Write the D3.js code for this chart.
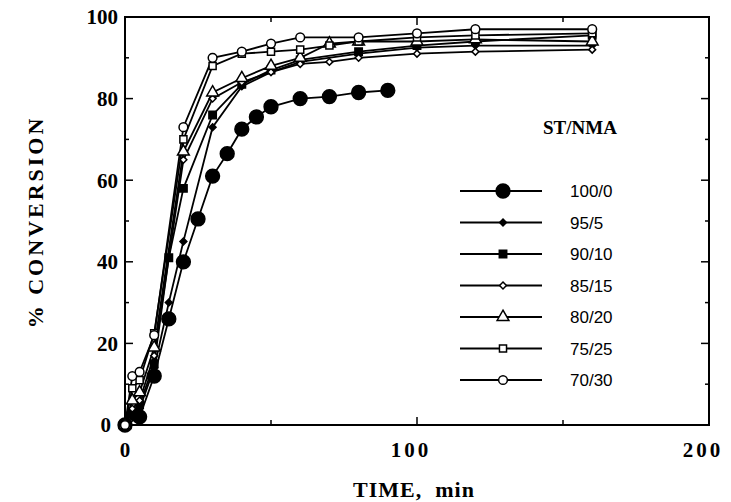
<!DOCTYPE html>
<html><head><meta charset="utf-8">
<script src="https://cdn.jsdelivr.net/npm/d3@7"></script>
<style>
body{margin:0;background:#fff;}
svg{display:block;}
</style></head>
<body><svg id="c" width="731" height="502"></svg>
<script>
const seriesNames = ["100/0","95/5","90/10","85/15","80/20","75/25","70/30"];
const t100_0 = [0,5,10,15,20,25,30,35,40,45,50,60,70,80,90];
const v100_0 = [0,2,12,26,40,50.5,61,66.5,72.5,75.5,78,80,80.5,81.5,82];
const t95_5 = [0,2.5,5,10,15,20,30,40,50,60,80,100,120,160];
const v95_5 = [0,2,4,14,30,45,73,83,86.5,89,91,92.5,93,93];
const t90_10 = [0,2.5,5,10,15,20,30,40,50,60,80,100,120,160];
const v90_10 = [0,3,5,15,41,58,76,83.5,87,89.5,91.5,93,94,95.5];
const t85_15 = [0,2.5,5,10,20,30,40,50,60,70,80,100,120,160];
const v85_15 = [0,4,6,17,65,80,84,86.5,88.5,89,90,91,91.5,92];
const t80_20 = [0,2.5,5,10,20,30,40,50,60,70,80,100,120,160];
const v80_20 = [0,6,8,19,67,81.5,85,88,90,93.5,94,94,94.5,94];
const t75_25 = [0,2.5,5,10,20,30,40,50,60,70,80,100,120,160];
const v75_25 = [0,9,11,22.5,70,88,91,91.5,92,93,94,95,95.5,96];
const t70_30 = [0,2.5,5,10,20,30,40,50,60,80,100,120,160];
const v70_30 = [0,12,13,22,73,90,91.5,93.5,95,95,96,97,97];
const xTicks = [0,100,200];
const xMinor = [50,150];
const yTicks = [0,20,40,60,80,100];
const yMinor = [10,30,50,70,90];

const times = [t100_0,t95_5,t90_10,t85_15,t80_20,t75_25,t70_30];
const vals = [v100_0,v95_5,v90_10,v85_15,v80_20,v75_25,v70_30];
const diamond = d3.symbolDiamond2 || d3.symbolDiamond;
const markers = [
  {type:d3.symbolCircle,size:150,fill:"#000"},
  {type:diamond,size:30,fill:"#000"},
  {type:d3.symbolSquare,size:55,fill:"#000"},
  {type:diamond,size:30,fill:"#fff"},
  {type:d3.symbolTriangle,size:60,fill:"#fff"},
  {type:d3.symbolSquare,size:50,fill:"#fff"},
  {type:d3.symbolCircle,size:60,fill:"#fff"}
];

const svg = d3.select("#c");
const x = d3.scaleLinear().domain([0,200]).range([125,709]);
const y = d3.scaleLinear().domain([0,100]).range([425,17]);

// frame
svg.append("rect").attr("x",125).attr("y",17).attr("width",584).attr("height",408)
  .attr("fill","none").attr("stroke","#000").attr("stroke-width",2);

// ticks
const g = svg.append("g").attr("stroke","#000").attr("stroke-width",1.5);
yTicks.forEach(v=>{
  g.append("line").attr("x1",x(0)).attr("x2",x(0)+8).attr("y1",y(v)).attr("y2",y(v));
  g.append("line").attr("x1",x(200)).attr("x2",x(200)-8).attr("y1",y(v)).attr("y2",y(v));
});
yMinor.forEach(v=>{
  g.append("line").attr("x1",x(0)).attr("x2",x(0)+4).attr("y1",y(v)).attr("y2",y(v));
  g.append("line").attr("x1",x(200)).attr("x2",x(200)-4).attr("y1",y(v)).attr("y2",y(v));
});
xTicks.forEach(v=>{
  g.append("line").attr("x1",x(v)).attr("x2",x(v)).attr("y1",y(0)).attr("y2",y(0)-8);
  g.append("line").attr("x1",x(v)).attr("x2",x(v)).attr("y1",y(100)).attr("y2",y(100)+8);
});
xMinor.forEach(v=>{
  g.append("line").attr("x1",x(v)).attr("x2",x(v)).attr("y1",y(0)).attr("y2",y(0)-5);
  g.append("line").attr("x1",x(v)).attr("x2",x(v)).attr("y1",y(100)).attr("y2",y(100)+5);
});

// tick labels
const serif = "'Liberation Serif','Times New Roman',serif";
svg.append("g").selectAll("text").data(yTicks).join("text")
  .attr("x",d=>d===0?111:118).attr("y",d=>y(d)).attr("dy","0.35em")
  .attr("text-anchor","end").attr("font-family",serif).attr("font-weight","bold")
  .attr("font-size",21).text(d=>d);
svg.append("g").selectAll("text").data(xTicks).join("text")
  .attr("x",d=>x(d)-(d===0?0:6)).attr("y",457)
  .attr("text-anchor","middle").attr("font-family",serif).attr("font-weight","bold")
  .attr("font-size",21).attr("letter-spacing",d=>d===0?0:3).text(d=>d);

// axis titles
svg.append("text").attr("x",414).attr("y",497).attr("text-anchor","middle")
  .attr("font-family",serif).attr("font-weight","bold").attr("font-size",22)
  .attr("letter-spacing",1).text("TIME,  min").style("white-space","pre");
svg.append("text").attr("transform","translate(43,222) rotate(-90)")
  .attr("text-anchor","middle").attr("font-family",serif).attr("font-weight","bold")
  .attr("font-size",22).attr("letter-spacing",3).text("% CONVERSION");

// series
const line = d3.line().x(d=>x(d[0])).y(d=>y(d[1]));
seriesNames.forEach((name,i)=>{
  const pts = times[i].map((t,j)=>[t,vals[i][j]]);
  svg.append("path").datum(pts).attr("d",line).attr("fill","none")
    .attr("stroke","#000").attr("stroke-width",1.8);
});
seriesNames.forEach((name,i)=>{
  const pts = times[i].map((t,j)=>[t,vals[i][j]]);
  const m = markers[i];
  svg.append("g").selectAll("path").data(pts).join("path")
    .attr("transform",d=>`translate(${x(d[0])},${y(d[1])})`)
    .attr("d",d3.symbol().type(m.type).size(m.size))
    .attr("fill",m.fill).attr("stroke","#000").attr("stroke-width",1.5);
});

// legend
svg.append("text").attr("x",543).attr("y",134).attr("font-family",serif)
  .attr("font-weight","bold").attr("font-size",19).text("ST/NMA");
const lg = svg.append("g");
seriesNames.forEach((name,i)=>{
  const ly = 191 + i*31.5;
  lg.append("line").attr("x1",460).attr("x2",542).attr("y1",ly).attr("y2",ly)
    .attr("stroke","#000").attr("stroke-width",1.8);
  const m = markers[i];
  lg.append("path").attr("transform",`translate(503,${ly})`)
    .attr("d",d3.symbol().type(m.type).size(m.size))
    .attr("fill",m.fill).attr("stroke","#000").attr("stroke-width",1.5);
  lg.append("text").attr("x",570).attr("y",ly).attr("dy","0.36em")
    .attr("font-family","'Liberation Sans',Arial,sans-serif").attr("font-size",17)
    .text(name);
});
</script></body></html>
